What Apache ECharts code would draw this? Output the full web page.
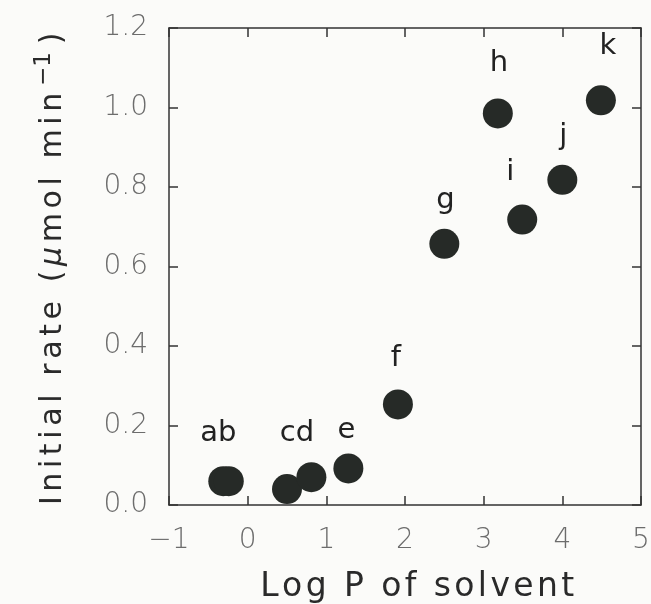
<!DOCTYPE html>
<html>
<head>
<meta charset="utf-8">
<script src="https://cdn.jsdelivr.net/npm/echarts@6/dist/echarts.min.js"></script>
<style>
  html, body { margin: 0; padding: 0; background: #fbfbf9; }
  #chart { width: 651px; height: 604px; }
</style>
</head>
<body>
<div id="chart"></div>
<script>
// solvent log P vs initial rate
var logP = [-0.31, -0.24, 0.50, 0.81, 1.28, 1.91, 2.50, 3.18, 3.49, 4.00, 4.49];
var rate = [0.06, 0.06, 0.04, 0.07, 0.092, 0.253, 0.657, 0.985, 0.718, 0.818, 1.018];
var labels = ['ab', '', 'cd', '', 'e', 'f', 'g', 'h', 'i', 'j', 'k'];
var xTicks = [-1, 0, 1, 2, 3, 4, 5];
var yTicks = [0.0, 0.2, 0.4, 0.6, 0.8, 1.0, 1.2];

// label nudges (px) so letters sit like in the figure
var labelShift = {
  ab: [-5, -48], cd: [10, -56], e: [-2, -38], f: [-2, -46], g: [1, -43],
  h: [1, -50], i: [-12, -47], j: [1, -43], k: [7, -54]
};

var chart = echarts.init(document.getElementById('chart'));
var font = 'DejaVu Sans';
var ink = '#262a27';
var axisCol = '#333';

// wrap each char in a rich token so the text gets letter spacing
function spaced(str, style) {
  return str.split('').map(function (c) { return '{' + style + '|' + c + '}'; }).join('');
}

var points = logP.map(function (x, i) {
  var item = { value: [x, rate[i]] };
  var t = labels[i];
  if (t) {
    item.label = { show: true, formatter: t, position: 'inside', offset: labelShift[t] };
  }
  return item;
});

var tickLab = { fontFamily: font, fontSize: 28, color: '#6c6c6c', fontWeight: 200 };
var line = { onZero: false, lineStyle: { color: axisCol, width: 1.5 } };
var tick = { inside: true, length: 9, lineStyle: { color: axisCol, width: 1.5 } };

var option = {
  backgroundColor: '#fbfbf9',
  animation: false,
  grid: { left: 169, right: 10, top: 28, bottom: 99, containLabel: false, outerBoundsMode: 'none' },
  xAxis: [{
    type: 'value', min: xTicks[0], max: xTicks[xTicks.length - 1], interval: 1,
    name: spaced('Log P of solvent', 'n'), nameLocation: 'middle', nameGap: 66,
    nameTextStyle: {
      padding: [0, 0, 0, 28],
      rich: { n: { fontFamily: font, fontSize: 33, color: '#2a2a2a', padding: [0, 3.4, 0, 0] } }
    },
    axisLine: line, axisTick: tick,
    axisLabel: Object.assign({ margin: 22, formatter: function (v) { return v < 0 ? '\u2212' + (-v) : v; } }, tickLab),
    splitLine: { show: false }
  }, {
    type: 'value', position: 'top', min: xTicks[0], max: xTicks[xTicks.length - 1], interval: 1,
    axisLine: Object.assign({ show: true }, line), axisTick: tick,
    axisLabel: { show: false }, splitLine: { show: false }
  }],
  yAxis: [{
    type: 'value', min: yTicks[0], max: yTicks[yTicks.length - 1], interval: 0.2,
    name: spaced('Initial rate (', 'n') + '{mu|\u03bc}' + spaced('mol min', 'n') + '{sup|\u22121}' + '{n|)}',
    nameLocation: 'middle', nameGap: 95, nameRotate: 90,
    nameTextStyle: {
      rich: {
        n: { fontFamily: font, fontSize: 30, color: '#2a2a2a', padding: [0, 4.6, 0, 0] },
        mu: { fontFamily: font, fontSize: 30, color: '#2a2a2a', fontStyle: 'italic', padding: [0, 4.6, 0, 0] },
        sup: { fontFamily: font, fontSize: 23, color: '#2a2a2a', padding: [0, 8, 18, 2] }
      }
    },
    axisLine: line, axisTick: tick,
    axisLabel: Object.assign({ margin: 21, formatter: function (v) { return v.toFixed(1); } }, tickLab),
    splitLine: { show: false }
  }, {
    type: 'value', position: 'right', min: yTicks[0], max: yTicks[yTicks.length - 1], interval: 0.2,
    axisLine: Object.assign({ show: true }, line), axisTick: tick,
    axisLabel: { show: false }, splitLine: { show: false }
  }],
  series: [{
    type: 'scatter',
    symbolSize: 30,
    itemStyle: { color: ink, opacity: 1 },
    label: { fontFamily: font, fontSize: 29, color: '#222' },
    data: points
  }]
};
chart.setOption(option);
</script>
</body>
</html>
